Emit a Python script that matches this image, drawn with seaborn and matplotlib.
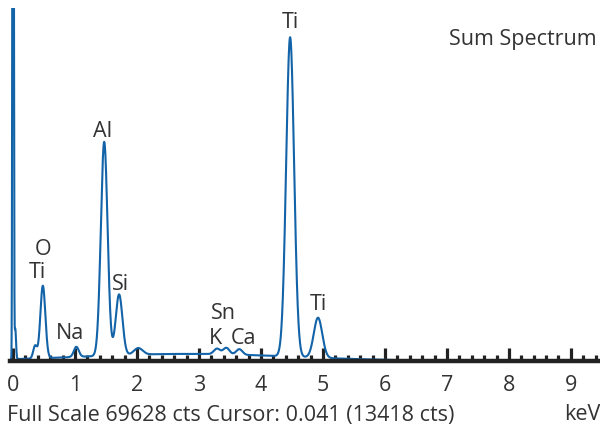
import numpy as np
import pandas as pd
import matplotlib
matplotlib.use("Agg")
import matplotlib.pyplot as plt
import seaborn as sns
from matplotlib.ticker import MultipleLocator

# ---- data (EDS spectrum, keV vs counts) ----
peak_keV   = [0.000, 0.035, 0.355, 0.480, 1.020, 1.470, 1.710, 2.020, 3.290, 3.440, 3.650, 4.470, 4.920]
peak_cts   = [400000, 6000, 2500, 14300, 2000, 42200, 12000, 1300, 1100, 1300, 1100, 63000, 7900]
peak_sigma = [0.008, 0.012, 0.030, 0.040, 0.040, 0.054, 0.054, 0.070, 0.050, 0.050, 0.050, 0.064, 0.068]
bg_keV, bg_cts, bg_sigma = [2.8], [1400], [1.7]

labels   = ["Ti", "Al", "O", "Ti", "Na", "Si", "Sn", "K", "Ca", "Ti"]
label_x  = [4.47, 1.44, 0.48, 0.39, 0.92, 1.73, 3.40, 3.26, 3.71, 4.92]
label_y  = [66800, 45300, 22000, 17500, 5500, 15000, 9450, 4530, 4530, 11200]

full_scale = 69628
tick_vals = list(range(10))
footer = "Full Scale 69628 cts Cursor: 0.041 (13418 cts)"

# ---- build spectrum from the peak table ----
e = np.arange(-0.04, 6.5, 0.002)
cts = np.zeros_like(e)
for c, h, s in zip(peak_keV + bg_keV, peak_cts + bg_cts, peak_sigma + bg_sigma):
    cts += h * np.exp(-0.5 * ((e - c) / s) ** 2)
cts = np.minimum(cts, full_scale * 1.05)
df = pd.DataFrame({"keV": e, "cts": cts})

sns.set_theme(style="white")
plt.rcParams["font.family"] = ["Open Sans", "DejaVu Sans"]
FS = 15.5
COL = "#333333"

fig = plt.figure(figsize=(6, 4.33), dpi=100)
ax = fig.add_axes([10 / 600, (433 - 361) / 433, 590 / 600, (361 - 8) / 433])
sns.lineplot(data=df, x="keV", y="cts", ax=ax, color="#1263a8", lw=1.5,
             estimator=None, sort=False)
ax.set_xlim(-0.05, 9.47)
ax.set_ylim(0, full_scale)
ax.set_xlabel("")
ax.set_ylabel("")
for s in ["left", "top", "right"]:
    ax.spines[s].set_visible(False)
ax.spines["bottom"].set_linewidth(3.2)
ax.spines["bottom"].set_color("#222222")
ax.spines["bottom"].set_zorder(3)
ax.set_yticks([])
ax.set_xticks(tick_vals)
ax.set_xticklabels([str(v) for v in tick_vals])
ax.xaxis.set_minor_locator(MultipleLocator(0.2))
ax.tick_params(axis="x", which="major", direction="in", length=9.5, width=2.3,
               color="#222222", labelsize=FS, labelcolor=COL, pad=10, bottom=True)
ax.tick_params(axis="x", which="minor", direction="in", length=4.5, width=2.3,
               color="#222222", bottom=True)

for t, x, y in zip(labels, label_x, label_y):
    ax.text(x, y, t, fontsize=FS, color=COL, ha="center", va="center")

fig.text(597 / 600, 1 - 40 / 433, "Sum Spectrum", fontsize=FS, color=COL,
         ha="right", va="center")
fig.text(7 / 600, 1 - 415 / 433, footer, fontsize=FS, color=COL,
         ha="left", va="center")
fig.text(601 / 600, 1 - 415 / 433, "keV", fontsize=FS, color=COL,
         ha="right", va="center")

fig.savefig("out.png", dpi=100)
